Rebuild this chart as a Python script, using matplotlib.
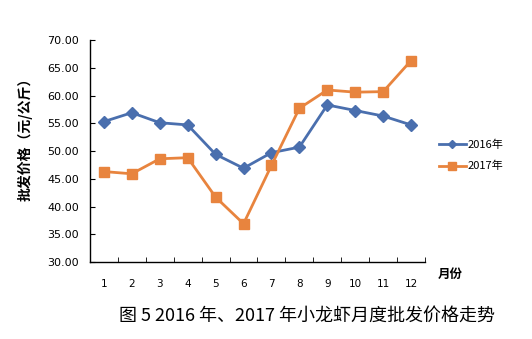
import matplotlib
matplotlib.use("Agg")
import matplotlib.pyplot as plt

plt.rcParams['font.family'] = ['DejaVu Sans', 'Noto Sans CJK SC']

months = [str(m) for m in range(1, 13)]
price_2016 = [55.3, 56.9, 55.1, 54.7, 49.4, 46.9, 49.7, 50.7, 58.3, 57.3, 56.3, 54.7]
price_2017 = [46.3, 45.9, 48.6, 48.8, 41.7, 36.9, 47.4, 57.7, 61.0, 60.6, 60.7, 66.3]
yticks = [30, 35, 40, 45, 50, 55, 60, 65, 70]

cjk = ['Noto Sans CJK SC', 'DejaVu Sans']

fig = plt.figure(figsize=(5.32, 3.39), dpi=100)
ax = fig.add_axes([0.169, 0.227, 0.630, 0.655])

x = list(range(1, 13))
ax.plot(x, price_2016, color='#4a6fae', lw=2.0, marker='D', ms=6, label='2016年')
ax.plot(x, price_2017, color='#e8843e', lw=2.0, marker='s', ms=7, label='2017年')

ax.set_xlim(0.5, 12.5)
ax.set_ylim(30, 70)
ax.set_yticks(yticks)
ax.set_yticklabels([f"{v:.2f}" for v in yticks], fontsize=8)
ax.set_xticks(x)
ax.set_xticklabels(months, fontsize=7.5)
ax.set_xticks([i + 0.5 for i in range(0, 13)], minor=True)
ax.tick_params(axis='x', which='major', length=0, pad=12)
ax.tick_params(axis='x', which='minor', direction='in', length=3.5, color='black')
ax.tick_params(axis='y', direction='in', length=3.5, color='black', pad=8)

for s in ['top', 'right']:
    ax.spines[s].set_visible(False)
for s in ['left', 'bottom']:
    ax.spines[s].set_color('black')
    ax.spines[s].set_linewidth(1.0)

ax.set_ylabel('批发价格（元/公斤）', family=cjk, fontsize=10, fontweight='bold')
ax.yaxis.set_label_coords(-0.172, 0.57)
fig.text(0.822, 0.19, '月份', family=cjk, fontsize=9, fontweight='bold', ha='left', va='center')

ax.legend(loc='center left', bbox_to_anchor=(1.027, 0.48), frameon=False,
          prop={'family': cjk, 'size': 8}, handlelength=2.5, handletextpad=0.1,
          labelspacing=1.0, borderaxespad=0, markerscale=0.75)

fig.text(0.577, 0.07, '图 5 2016 年、2017 年小龙虾月度批发价格走势', family=cjk,
         fontsize=13, ha='center', va='center')

fig.savefig('out.png', dpi=100)
